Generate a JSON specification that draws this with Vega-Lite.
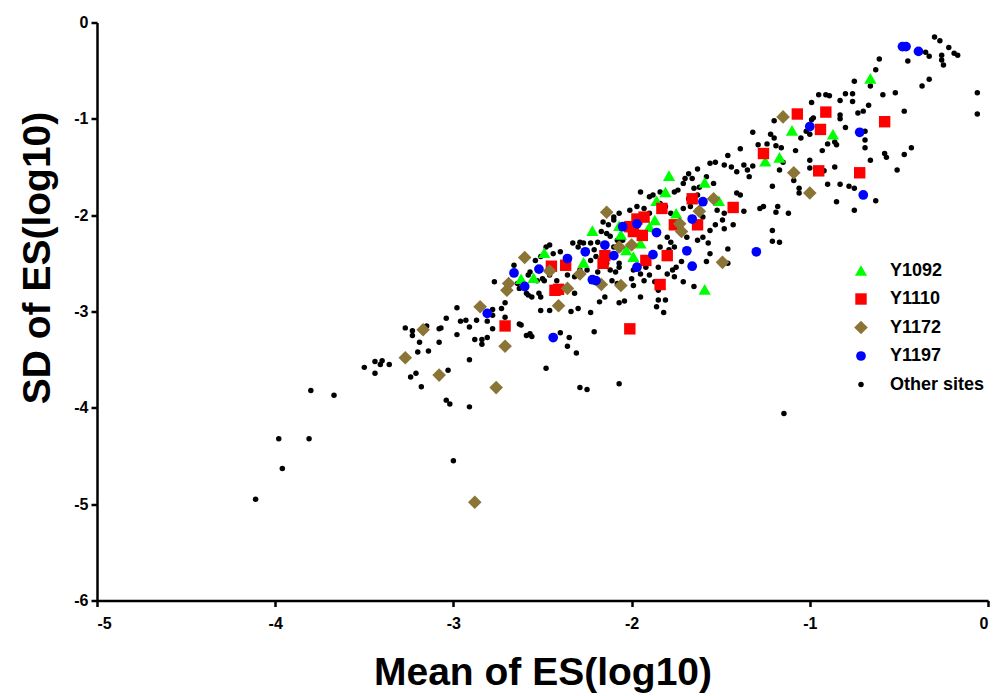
{
"$schema":"https://vega.github.io/schema/vega-lite/v6.json",
"width":891,"height":578,
"autosize":"none",
"padding":{"left":97,"top":22.5,"right":15,"bottom":95.5},
"background":"white",
"config":{"view":{"stroke":null},"font":"Liberation Sans"},
"data":{"values":[
{"x":-0.30,"y":-0.15,"s":"Other sites"},{"x":-0.27,"y":-0.19,"s":"Other sites"},{"x":-0.22,"y":-0.26,"s":"Other sites"},{"x":-0.19,"y":-0.32,"s":"Other sites"},{"x":-0.17,"y":-0.34,"s":"Other sites"},{"x":-0.26,"y":-0.34,"s":"Other sites"},{"x":-0.33,"y":-0.35,"s":"Other sites"},{"x":-0.35,"y":-0.31,"s":"Other sites"},{"x":-0.26,"y":-0.39,"s":"Other sites"},{"x":-0.25,"y":-0.44,"s":"Other sites"},{"x":-0.45,"y":-0.40,"s":"Other sites"},{"x":-0.61,"y":-0.38,"s":"Other sites"},{"x":-0.63,"y":-0.49,"s":"Other sites"},{"x":-0.75,"y":-0.61,"s":"Other sites"},{"x":-0.33,"y":-0.59,"s":"Other sites"},{"x":-0.37,"y":-0.66,"s":"Other sites"},{"x":-0.66,"y":-0.66,"s":"Other sites"},{"x":-0.06,"y":-0.73,"s":"Other sites"},{"x":-0.06,"y":-0.95,"s":"Other sites"},{"x":-0.52,"y":-0.73,"s":"Other sites"},{"x":-0.59,"y":-0.75,"s":"Other sites"},{"x":-0.95,"y":-0.75,"s":"Other sites"},{"x":-0.91,"y":-0.75,"s":"Other sites"},{"x":-0.89,"y":-0.76,"s":"Other sites"},{"x":-0.80,"y":-0.74,"s":"Other sites"},{"x":-0.76,"y":-0.74,"s":"Other sites"},{"x":-0.99,"y":-0.83,"s":"Other sites"},{"x":-0.83,"y":-0.81,"s":"Other sites"},{"x":-0.76,"y":-0.82,"s":"Other sites"},{"x":-0.67,"y":-0.86,"s":"Other sites"},{"x":-0.70,"y":-0.92,"s":"Other sites"},{"x":-0.73,"y":-0.94,"s":"Other sites"},{"x":-0.83,"y":-0.96,"s":"Other sites"},{"x":-0.83,"y":-1.00,"s":"Other sites"},{"x":-0.98,"y":-0.99,"s":"Other sites"},{"x":-0.99,"y":-1.01,"s":"Other sites"},{"x":-1.20,"y":-1.02,"s":"Other sites"},{"x":-0.47,"y":-0.92,"s":"Other sites"},{"x":-0.80,"y":-1.09,"s":"Other sites"},{"x":-1.32,"y":-1.14,"s":"Other sites"},{"x":-1.22,"y":-1.16,"s":"Other sites"},{"x":-1.20,"y":-1.20,"s":"Other sites"},{"x":-1.05,"y":-1.20,"s":"Other sites"},{"x":-1.02,"y":-1.13,"s":"Other sites"},{"x":-1.00,"y":-1.16,"s":"Other sites"},{"x":-0.69,"y":-1.13,"s":"Other sites"},{"x":-0.69,"y":-1.22,"s":"Other sites"},{"x":-0.69,"y":-1.30,"s":"Other sites"},{"x":-0.85,"y":-1.27,"s":"Other sites"},{"x":-0.90,"y":-1.26,"s":"Other sites"},{"x":-0.86,"y":-1.24,"s":"Other sites"},{"x":-1.29,"y":-1.27,"s":"Other sites"},{"x":-1.24,"y":-1.26,"s":"Other sites"},{"x":-1.19,"y":-1.28,"s":"Other sites"},{"x":-1.16,"y":-1.30,"s":"Other sites"},{"x":-1.08,"y":-1.33,"s":"Other sites"},{"x":-0.93,"y":-1.33,"s":"Other sites"},{"x":-0.43,"y":-1.30,"s":"Other sites"},{"x":-0.47,"y":-1.37,"s":"Other sites"},{"x":-0.58,"y":-1.36,"s":"Other sites"},{"x":-0.57,"y":-1.40,"s":"Other sites"},{"x":-0.66,"y":-1.43,"s":"Other sites"},{"x":-1.00,"y":-1.43,"s":"Other sites"},{"x":-1.00,"y":-1.51,"s":"Other sites"},{"x":-0.86,"y":-1.50,"s":"Other sites"},{"x":-0.92,"y":-1.54,"s":"Other sites"},{"x":-0.51,"y":-1.53,"s":"Other sites"},{"x":-1.37,"y":-1.48,"s":"Other sites"},{"x":-1.32,"y":-1.49,"s":"Other sites"},{"x":-1.35,"y":-1.53,"s":"Other sites"},{"x":-1.34,"y":-1.60,"s":"Other sites"},{"x":-1.17,"y":-1.53,"s":"Other sites"},{"x":-1.21,"y":-1.70,"s":"Other sites"},{"x":-1.09,"y":-1.64,"s":"Other sites"},{"x":-1.06,"y":-1.72,"s":"Other sites"},{"x":-1.06,"y":-1.77,"s":"Other sites"},{"x":-0.90,"y":-1.68,"s":"Other sites"},{"x":-0.83,"y":-1.68,"s":"Other sites"},{"x":-0.78,"y":-1.70,"s":"Other sites"},{"x":-0.75,"y":-1.72,"s":"Other sites"},{"x":-0.63,"y":-1.85,"s":"Other sites"},{"x":-0.85,"y":-1.86,"s":"Other sites"},{"x":-0.75,"y":-1.95,"s":"Other sites"},{"x":-1.26,"y":-1.91,"s":"Other sites"},{"x":-1.28,"y":-1.93,"s":"Other sites"},{"x":-1.18,"y":-1.91,"s":"Other sites"},{"x":-1.37,"y":-1.96,"s":"Other sites"},{"x":-1.19,"y":-1.97,"s":"Other sites"},{"x":-1.12,"y":-1.98,"s":"Other sites"},{"x":-1.21,"y":-2.16,"s":"Other sites"},{"x":-1.21,"y":-2.27,"s":"Other sites"},{"x":-1.17,"y":-2.28,"s":"Other sites"},{"x":-1.39,"y":-1.31,"s":"Other sites"},{"x":-1.39,"y":-1.79,"s":"Other sites"},{"x":-1.15,"y":-1.45,"s":"Other sites"},
{"x":-2.98,"y":-2.96,"s":"Other sites"},{"x":-3.04,"y":-3.07,"s":"Other sites"},{"x":-2.96,"y":-3.10,"s":"Other sites"},{"x":-2.93,"y":-3.09,"s":"Other sites"},{"x":-2.91,"y":-3.16,"s":"Other sites"},{"x":-2.87,"y":-3.09,"s":"Other sites"},{"x":-2.81,"y":-3.10,"s":"Other sites"},{"x":-2.78,"y":-3.18,"s":"Other sites"},{"x":-2.78,"y":-3.04,"s":"Other sites"},{"x":-2.78,"y":-2.98,"s":"Other sites"},{"x":-2.73,"y":-2.97,"s":"Other sites"},{"x":-2.71,"y":-3.06,"s":"Other sites"},{"x":-2.71,"y":-2.91,"s":"Other sites"},{"x":-3.27,"y":-3.17,"s":"Other sites"},{"x":-3.23,"y":-3.20,"s":"Other sites"},{"x":-3.23,"y":-3.25,"s":"Other sites"},{"x":-3.15,"y":-3.15,"s":"Other sites"},{"x":-3.08,"y":-3.18,"s":"Other sites"},{"x":-3.07,"y":-3.17,"s":"Other sites"},{"x":-2.98,"y":-3.24,"s":"Other sites"},{"x":-3.08,"y":-3.32,"s":"Other sites"},{"x":-3.19,"y":-3.32,"s":"Other sites"},{"x":-3.20,"y":-3.42,"s":"Other sites"},{"x":-3.14,"y":-3.41,"s":"Other sites"},{"x":-2.88,"y":-3.29,"s":"Other sites"},{"x":-2.84,"y":-3.29,"s":"Other sites"},{"x":-2.81,"y":-3.27,"s":"Other sites"},{"x":-2.84,"y":-3.34,"s":"Other sites"},{"x":-2.91,"y":-3.50,"s":"Other sites"},{"x":-3.03,"y":-3.61,"s":"Other sites"},{"x":-3.18,"y":-3.78,"s":"Other sites"},{"x":-3.21,"y":-3.64,"s":"Other sites"},{"x":-3.24,"y":-3.68,"s":"Other sites"},{"x":-3.04,"y":-3.92,"s":"Other sites"},{"x":-3.02,"y":-3.96,"s":"Other sites"},{"x":-2.91,"y":-3.99,"s":"Other sites"},{"x":-3.00,"y":-4.55,"s":"Other sites"},{"x":-3.50,"y":-3.58,"s":"Other sites"},{"x":-3.44,"y":-3.52,"s":"Other sites"},{"x":-3.41,"y":-3.55,"s":"Other sites"},{"x":-3.40,"y":-3.51,"s":"Other sites"},{"x":-3.36,"y":-3.55,"s":"Other sites"},{"x":-3.44,"y":-3.64,"s":"Other sites"},{"x":-3.80,"y":-3.82,"s":"Other sites"},{"x":-3.67,"y":-3.87,"s":"Other sites"},{"x":-3.98,"y":-4.32,"s":"Other sites"},{"x":-3.81,"y":-4.32,"s":"Other sites"},{"x":-3.96,"y":-4.63,"s":"Other sites"},{"x":-4.11,"y":-4.95,"s":"Other sites"},
{"x":-2.16,"y":-2.07,"s":"Other sites"},{"x":-2.13,"y":-2.10,"s":"Other sites"},{"x":-2.10,"y":-2.05,"s":"Other sites"},{"x":-2.17,"y":-2.17,"s":"Other sites"},{"x":-2.14,"y":-2.19,"s":"Other sites"},{"x":-2.12,"y":-2.22,"s":"Other sites"},{"x":-2.08,"y":-2.26,"s":"Other sites"},{"x":-2.19,"y":-2.28,"s":"Other sites"},{"x":-2.23,"y":-2.29,"s":"Other sites"},{"x":-2.29,"y":-2.28,"s":"Other sites"},{"x":-2.33,"y":-2.29,"s":"Other sites"},{"x":-2.30,"y":-2.33,"s":"Other sites"},{"x":-2.27,"y":-2.29,"s":"Other sites"},{"x":-2.21,"y":-2.36,"s":"Other sites"},{"x":-2.20,"y":-2.43,"s":"Other sites"},{"x":-2.23,"y":-2.47,"s":"Other sites"},{"x":-2.13,"y":-2.42,"s":"Other sites"},{"x":-2.10,"y":-2.33,"s":"Other sites"},{"x":-2.07,"y":-2.36,"s":"Other sites"},{"x":-2.14,"y":-2.50,"s":"Other sites"},{"x":-2.12,"y":-2.57,"s":"Other sites"},{"x":-2.09,"y":-2.59,"s":"Other sites"},{"x":-2.07,"y":-2.54,"s":"Other sites"},{"x":-2.11,"y":-2.68,"s":"Other sites"},{"x":-2.08,"y":-2.71,"s":"Other sites"},{"x":-2.19,"y":-2.59,"s":"Other sites"},{"x":-2.25,"y":-2.57,"s":"Other sites"},{"x":-2.29,"y":-2.57,"s":"Other sites"},{"x":-2.32,"y":-2.64,"s":"Other sites"},{"x":-2.36,"y":-2.62,"s":"Other sites"},{"x":-2.42,"y":-2.68,"s":"Other sites"},{"x":-2.46,"y":-2.31,"s":"Other sites"},{"x":-2.48,"y":-2.33,"s":"Other sites"},{"x":-2.40,"y":-2.38,"s":"Other sites"},{"x":-2.44,"y":-2.40,"s":"Other sites"},{"x":-2.51,"y":-2.43,"s":"Other sites"},{"x":-2.54,"y":-2.47,"s":"Other sites"},{"x":-2.57,"y":-2.59,"s":"Other sites"},{"x":-2.58,"y":-2.62,"s":"Other sites"},{"x":-2.53,"y":-2.68,"s":"Other sites"},{"x":-2.50,"y":-2.66,"s":"Other sites"},{"x":-2.49,"y":-2.68,"s":"Other sites"},{"x":-2.46,"y":-2.62,"s":"Other sites"},{"x":-2.64,"y":-2.71,"s":"Other sites"},{"x":-2.63,"y":-2.76,"s":"Other sites"},{"x":-2.58,"y":-2.83,"s":"Other sites"},{"x":-2.56,"y":-2.85,"s":"Other sites"},{"x":-2.59,"y":-2.81,"s":"Other sites"},{"x":-2.52,"y":-2.81,"s":"Other sites"},{"x":-2.51,"y":-2.85,"s":"Other sites"},{"x":-2.77,"y":-2.69,"s":"Other sites"},{"x":-2.66,"y":-2.52,"s":"Other sites"},{"x":-2.51,"y":-2.99,"s":"Other sites"},{"x":-2.46,"y":-2.99,"s":"Other sites"},{"x":-2.63,"y":-3.13,"s":"Other sites"},{"x":-2.62,"y":-3.14,"s":"Other sites"},{"x":-2.59,"y":-3.25,"s":"Other sites"},{"x":-2.57,"y":-3.23,"s":"Other sites"},{"x":-2.56,"y":-3.26,"s":"Other sites"},{"x":-2.48,"y":-3.59,"s":"Other sites"},
{"x":-1.46,"y":-1.38,"s":"Other sites"},{"x":-1.53,"y":-1.45,"s":"Other sites"},{"x":-1.56,"y":-1.46,"s":"Other sites"},{"x":-1.48,"y":-1.48,"s":"Other sites"},{"x":-1.44,"y":-1.50,"s":"Other sites"},{"x":-1.41,"y":-1.55,"s":"Other sites"},{"x":-1.63,"y":-1.52,"s":"Other sites"},{"x":-1.68,"y":-1.57,"s":"Other sites"},{"x":-1.70,"y":-1.62,"s":"Other sites"},{"x":-1.71,"y":-1.67,"s":"Other sites"},{"x":-1.66,"y":-1.62,"s":"Other sites"},{"x":-1.62,"y":-1.71,"s":"Other sites"},{"x":-1.58,"y":-1.60,"s":"Other sites"},{"x":-1.54,"y":-1.67,"s":"Other sites"},{"x":-1.65,"y":-1.72,"s":"Other sites"},{"x":-1.76,"y":-1.76,"s":"Other sites"},{"x":-1.74,"y":-1.74,"s":"Other sites"},{"x":-1.84,"y":-1.76,"s":"Other sites"},{"x":-1.88,"y":-1.79,"s":"Other sites"},{"x":-1.95,"y":-1.76,"s":"Other sites"},{"x":-1.68,"y":-1.83,"s":"Other sites"},{"x":-1.63,"y":-1.79,"s":"Other sites"},{"x":-1.41,"y":-1.77,"s":"Other sites"},{"x":-1.52,"y":-1.95,"s":"Other sites"},{"x":-1.48,"y":-1.98,"s":"Other sites"},{"x":-1.49,"y":-2.05,"s":"Other sites"},{"x":-1.43,"y":-2.10,"s":"Other sites"},{"x":-1.48,"y":-2.14,"s":"Other sites"},{"x":-1.53,"y":-2.10,"s":"Other sites"},{"x":-1.56,"y":-2.16,"s":"Other sites"},{"x":-1.60,"y":-2.23,"s":"Other sites"},{"x":-1.63,"y":-2.26,"s":"Other sites"},{"x":-1.69,"y":-2.23,"s":"Other sites"},{"x":-1.73,"y":-2.16,"s":"Other sites"},{"x":-1.80,"y":-2.23,"s":"Other sites"},{"x":-1.78,"y":-2.28,"s":"Other sites"},{"x":-1.84,"y":-2.33,"s":"Other sites"},{"x":-1.79,"y":-2.36,"s":"Other sites"},{"x":-1.76,"y":-2.33,"s":"Other sites"},{"x":-1.57,"y":-2.29,"s":"Other sites"},{"x":-1.46,"y":-2.35,"s":"Other sites"},{"x":-1.46,"y":-2.50,"s":"Other sites"},{"x":-1.56,"y":-2.40,"s":"Other sites"},{"x":-1.58,"y":-2.48,"s":"Other sites"},{"x":-1.72,"y":-2.48,"s":"Other sites"},{"x":-1.75,"y":-2.54,"s":"Other sites"},{"x":-1.77,"y":-2.57,"s":"Other sites"},{"x":-1.85,"y":-2.54,"s":"Other sites"},{"x":-1.92,"y":-2.54,"s":"Other sites"},{"x":-1.95,"y":-2.61,"s":"Other sites"},{"x":-1.99,"y":-2.57,"s":"Other sites"},{"x":-2.00,"y":-2.66,"s":"Other sites"},{"x":-1.93,"y":-2.68,"s":"Other sites"},{"x":-1.90,"y":-2.62,"s":"Other sites"},{"x":-1.87,"y":-2.69,"s":"Other sites"},{"x":-1.80,"y":-2.61,"s":"Other sites"},{"x":-1.76,"y":-2.64,"s":"Other sites"},{"x":-1.71,"y":-2.69,"s":"Other sites"},{"x":-1.65,"y":-2.74,"s":"Other sites"},{"x":-1.85,"y":-2.78,"s":"Other sites"},{"x":-2.07,"y":-2.50,"s":"Other sites"},{"x":-1.99,"y":-2.73,"s":"Other sites"},{"x":-1.97,"y":-1.91,"s":"Other sites"},{"x":-2.01,"y":-1.95,"s":"Other sites"},{"x":-2.07,"y":-1.98,"s":"Other sites"},{"x":-2.10,"y":-2.02,"s":"Other sites"},{"x":-2.05,"y":-2.26,"s":"Other sites"},{"x":-1.93,"y":-1.93,"s":"Other sites"},{"x":-1.90,"y":-1.98,"s":"Other sites"},{"x":-1.90,"y":-1.81,"s":"Other sites"},{"x":-1.84,"y":-1.88,"s":"Other sites"},{"x":-1.81,"y":-1.91,"s":"Other sites"},{"x":-1.78,"y":-1.98,"s":"Other sites"},{"x":-1.67,"y":-1.91,"s":"Other sites"},{"x":-1.71,"y":-1.93,"s":"Other sites"},{"x":-1.63,"y":-1.95,"s":"Other sites"},{"x":-1.60,"y":-2.02,"s":"Other sites"},{"x":-1.95,"y":-2.85,"s":"Other sites"},
{"x":-2.32,"y":-2.81,"s":"Other sites"},{"x":-2.18,"y":-2.90,"s":"Other sites"},{"x":-2.15,"y":-2.85,"s":"Other sites"},{"x":-2.07,"y":-2.91,"s":"Other sites"},{"x":-2.04,"y":-2.89,"s":"Other sites"},{"x":-1.85,"y":-2.88,"s":"Other sites"},{"x":-1.81,"y":-2.88,"s":"Other sites"},{"x":-1.86,"y":-2.95,"s":"Other sites"},{"x":-1.82,"y":-3.01,"s":"Other sites"},{"x":-2.34,"y":-3.00,"s":"Other sites"},{"x":-2.30,"y":-2.97,"s":"Other sites"},{"x":-2.23,"y":-3.01,"s":"Other sites"},{"x":-2.40,"y":-3.22,"s":"Other sites"},{"x":-2.35,"y":-3.27,"s":"Other sites"},{"x":-2.21,"y":-3.21,"s":"Other sites"},{"x":-2.36,"y":-3.36,"s":"Other sites"},{"x":-2.31,"y":-3.43,"s":"Other sites"},{"x":-2.29,"y":-3.79,"s":"Other sites"},{"x":-2.25,"y":-3.81,"s":"Other sites"},{"x":-2.07,"y":-3.75,"s":"Other sites"},{"x":-1.145,"y":-4.06,"s":"Other sites"},
{"x":-0.66,"y":-0.58,"s":"Y1092"},{"x":-1.10,"y":-1.12,"s":"Y1092"},{"x":-0.87,"y":-1.16,"s":"Y1092"},{"x":-1.25,"y":-1.44,"s":"Y1092"},{"x":-1.17,"y":-1.40,"s":"Y1092"},{"x":-1.79,"y":-1.59,"s":"Y1092"},{"x":-1.59,"y":-1.66,"s":"Y1092"},{"x":-1.81,"y":-1.76,"s":"Y1092"},{"x":-1.86,"y":-1.85,"s":"Y1092"},{"x":-1.51,"y":-1.85,"s":"Y1092"},{"x":-1.75,"y":-1.98,"s":"Y1092"},{"x":-1.87,"y":-2.05,"s":"Y1092"},{"x":-2.07,"y":-2.11,"s":"Y1092"},{"x":-1.90,"y":-2.12,"s":"Y1092"},{"x":-2.06,"y":-2.20,"s":"Y1092"},{"x":-1.95,"y":-2.29,"s":"Y1092"},{"x":-2.03,"y":-2.36,"s":"Y1092"},{"x":-1.99,"y":-2.43,"s":"Y1092"},{"x":-1.59,"y":-2.77,"s":"Y1092"},{"x":-2.22,"y":-2.16,"s":"Y1092"},{"x":-2.49,"y":-2.39,"s":"Y1092"},{"x":-2.27,"y":-2.49,"s":"Y1092"},{"x":-2.62,"y":-2.66,"s":"Y1092"},{"x":-2.55,"y":-2.65,"s":"Y1092"},
{"x":-1.07,"y":-0.95,"s":"Y1110"},{"x":-0.91,"y":-0.93,"s":"Y1110"},{"x":-0.94,"y":-1.11,"s":"Y1110"},{"x":-0.58,"y":-1.03,"s":"Y1110"},{"x":-1.26,"y":-1.36,"s":"Y1110"},{"x":-0.95,"y":-1.54,"s":"Y1110"},{"x":-0.72,"y":-1.56,"s":"Y1110"},{"x":-1.66,"y":-1.83,"s":"Y1110"},{"x":-1.43,"y":-1.92,"s":"Y1110"},{"x":-1.83,"y":-1.93,"s":"Y1110"},{"x":-1.93,"y":-2.02,"s":"Y1110"},{"x":-1.97,"y":-2.04,"s":"Y1110"},{"x":-1.76,"y":-2.10,"s":"Y1110"},{"x":-1.63,"y":-2.10,"s":"Y1110"},{"x":-2.01,"y":-2.12,"s":"Y1110"},{"x":-1.99,"y":-2.17,"s":"Y1110"},{"x":-1.94,"y":-2.21,"s":"Y1110"},{"x":-2.15,"y":-2.42,"s":"Y1110"},{"x":-2.16,"y":-2.50,"s":"Y1110"},{"x":-1.80,"y":-2.42,"s":"Y1110"},{"x":-1.92,"y":-2.47,"s":"Y1110"},{"x":-1.84,"y":-2.72,"s":"Y1110"},{"x":-2.45,"y":-2.53,"s":"Y1110"},{"x":-2.37,"y":-2.52,"s":"Y1110"},{"x":-2.41,"y":-2.77,"s":"Y1110"},{"x":-2.43,"y":-2.78,"s":"Y1110"},{"x":-2.71,"y":-3.15,"s":"Y1110"},{"x":-2.01,"y":-3.18,"s":"Y1110"},
{"x":-1.15,"y":-0.98,"s":"Y1172"},{"x":-1.09,"y":-1.56,"s":"Y1172"},{"x":-1.00,"y":-1.77,"s":"Y1172"},{"x":-1.54,"y":-1.83,"s":"Y1172"},{"x":-1.62,"y":-1.96,"s":"Y1172"},{"x":-2.14,"y":-1.97,"s":"Y1172"},{"x":-1.73,"y":-2.09,"s":"Y1172"},{"x":-1.72,"y":-2.17,"s":"Y1172"},{"x":-2.00,"y":-2.31,"s":"Y1172"},{"x":-2.07,"y":-2.33,"s":"Y1172"},{"x":-1.49,"y":-2.49,"s":"Y1172"},{"x":-2.06,"y":-2.73,"s":"Y1172"},{"x":-2.60,"y":-2.44,"s":"Y1172"},{"x":-2.46,"y":-2.58,"s":"Y1172"},{"x":-2.29,"y":-2.61,"s":"Y1172"},{"x":-2.17,"y":-2.72,"s":"Y1172"},{"x":-2.69,"y":-2.71,"s":"Y1172"},{"x":-2.70,"y":-2.78,"s":"Y1172"},{"x":-2.36,"y":-2.76,"s":"Y1172"},{"x":-2.41,"y":-2.94,"s":"Y1172"},{"x":-2.85,"y":-2.95,"s":"Y1172"},{"x":-2.71,"y":-3.36,"s":"Y1172"},{"x":-3.08,"y":-3.66,"s":"Y1172"},{"x":-2.76,"y":-3.79,"s":"Y1172"},{"x":-3.27,"y":-3.48,"s":"Y1172"},{"x":-3.17,"y":-3.19,"s":"Y1172"},{"x":-2.88,"y":-4.98,"s":"Y1172"},
{"x":-0.48,"y":-0.25,"s":"Y1197"},{"x":-0.46,"y":-0.25,"s":"Y1197"},{"x":-0.39,"y":-0.30,"s":"Y1197"},{"x":-1.00,"y":-1.08,"s":"Y1197"},{"x":-0.72,"y":-1.14,"s":"Y1197"},{"x":-0.70,"y":-1.79,"s":"Y1197"},{"x":-1.30,"y":-2.38,"s":"Y1197"},{"x":-1.60,"y":-1.86,"s":"Y1197"},{"x":-1.66,"y":-2.04,"s":"Y1197"},{"x":-2.05,"y":-2.12,"s":"Y1197"},{"x":-1.97,"y":-2.09,"s":"Y1197"},{"x":-1.86,"y":-2.18,"s":"Y1197"},{"x":-2.15,"y":-2.31,"s":"Y1197"},{"x":-2.10,"y":-2.42,"s":"Y1197"},{"x":-1.88,"y":-2.41,"s":"Y1197"},{"x":-1.69,"y":-2.37,"s":"Y1197"},{"x":-1.97,"y":-2.54,"s":"Y1197"},{"x":-1.66,"y":-2.53,"s":"Y1197"},{"x":-2.26,"y":-2.38,"s":"Y1197"},{"x":-2.36,"y":-2.45,"s":"Y1197"},{"x":-2.52,"y":-2.56,"s":"Y1197"},{"x":-2.66,"y":-2.60,"s":"Y1197"},{"x":-2.22,"y":-2.67,"s":"Y1197"},{"x":-2.20,"y":-2.68,"s":"Y1197"},{"x":-2.60,"y":-2.74,"s":"Y1197"},{"x":-2.81,"y":-3.02,"s":"Y1197"},{"x":-2.44,"y":-3.27,"s":"Y1197"}
]},
"mark":{"type":"point","filled":true,"opacity":1,"strokeWidth":0},
"encoding":{
"x":{"field":"x","type":"quantitative","scale":{"domain":[-5,0],"nice":false,"zero":false},
"axis":{"values":[-5,-4,-3,-2,-1,0],"labelExpr":"(datum.value < 0 ? '-' : '') + abs(datum.value)","grid":false,"domainColor":"#000","domainWidth":2.5,"tickColor":"#000","tickWidth":2.5,"tickSize":6,"labelFont":"Liberation Sans","labelFontWeight":"bold","labelFontSize":16,"labelColor":"#000","labelPadding":9,"title":"Mean of ES(log10)","titleFont":"Liberation Sans","titleFontWeight":"bold","titleFontSize":39,"titleColor":"#000","titleBaseline":"alphabetic","titleY":84}},
"y":{"field":"y","type":"quantitative","scale":{"domain":[-6,0],"nice":false,"zero":false},
"axis":{"values":[-6,-5,-4,-3,-2,-1,0],"labelExpr":"(datum.value < 0 ? '-' : '') + abs(datum.value)","grid":false,"domainColor":"#000","domainWidth":2.5,"tickColor":"#000","tickWidth":2.5,"tickSize":6,"labelFont":"Liberation Sans","labelFontWeight":"bold","labelFontSize":16,"labelColor":"#000","labelPadding":3,"title":"SD of ES(log10)","titleFont":"Liberation Sans","titleFontWeight":"bold","titleFontSize":39,"titleColor":"#000","titleAngle":-90,"titleAlign":"center","titleBaseline":"bottom","titleX":-40,"titleY":235}},
"color":{"field":"s","type":"nominal","scale":{"domain":["Y1092","Y1110","Y1172","Y1197","Other sites"],"range":["#00ff00","#ff0000","#8b7536","#0000ff","#000000"]},
"legend":{"title":null,"orient":"none","legendX":755,"legendY":239,"padding":0,"rowPadding":10.5,"labelOffset":20,"labelFont":"Liberation Sans","labelFontWeight":"bold","labelFontSize":18,"labelColor":"#000","symbolStrokeWidth":0}},
"shape":{"field":"s","type":"nominal","scale":{"domain":["Y1092","Y1110","Y1172","Y1197","Other sites"],"range":["triangle-up","square","diamond","circle","circle"]}},
"size":{"field":"s","type":"nominal","scale":{"type":"ordinal","domain":["Y1092","Y1110","Y1172","Y1197","Other sites"],"range":[150,130,185,95,30]}}
}
}
